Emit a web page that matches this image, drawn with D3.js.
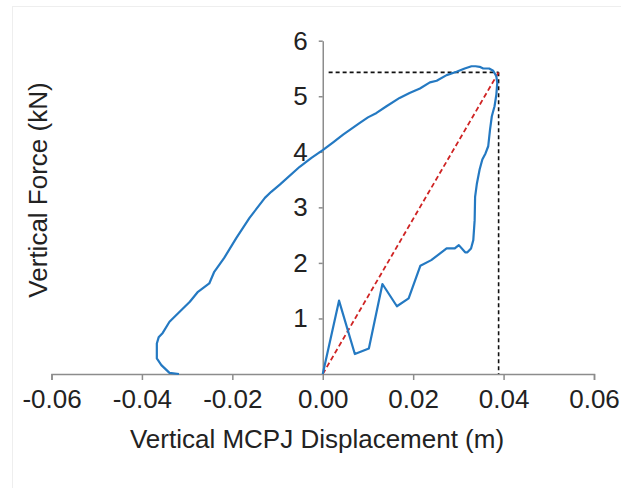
<!DOCTYPE html>
<html>
<head>
<meta charset="utf-8">
<script src="https://cdn.jsdelivr.net/npm/d3@7/dist/d3.min.js"></script>
<style>
  html, body { margin: 0; padding: 0; background: #fff; }
  svg { display: block; }
  text { font-family: "Liberation Sans", Arial, sans-serif; fill: #222; }
</style>
</head>
<body>
<svg id="chart" width="621" height="488"></svg>
<script>
// ---- data (m, kN) ----
const xTicks = [-0.06, -0.04, -0.02, 0.00, 0.02, 0.04, 0.06];
const yTicks = [1, 2, 3, 4, 5, 6];
const xTitle = "Vertical MCPJ Displacement (m)";
const yTitle = "Vertical Force (kN)";

const dispX = [
  0.0000, 0.0036, 0.0071, 0.0102, 0.0132, 0.0164, 0.0190, 0.0216, 0.0240, 0.0274,
  0.0292, 0.0301, 0.0315, 0.0320, 0.0328, 0.0333, 0.0336, 0.0337, 0.0341, 0.0347,
  0.0353, 0.0360, 0.0366, 0.0370, 0.0374, 0.0380, 0.0384, 0.0386, 0.0384, 0.0377,
  0.0368, 0.0355, 0.0347, 0.0338, 0.0329, 0.0314, 0.0296, 0.0274, 0.0252, 0.0237,
  0.0215, 0.0192, 0.0170, 0.0141, 0.0119, 0.0100, 0.0082, 0.0045, 0.0023, 0.0000,
  -0.0025, -0.0051, -0.0095, -0.0114, -0.0128, -0.0162, -0.0191, -0.0218, -0.0240, -0.0251,
  -0.0276, -0.0294, -0.0339, -0.0354, -0.0363, -0.0367, -0.0367, -0.0357, -0.0339, -0.0318
];
const forceY = [
  0.00, 1.32, 0.36, 0.46, 1.62, 1.22, 1.36, 1.95, 2.05, 2.26,
  2.26, 2.32, 2.19, 2.19, 2.26, 2.41, 2.77, 3.19, 3.43, 3.68,
  3.86, 3.97, 4.10, 4.40, 4.64, 4.82, 5.03, 5.24, 5.36, 5.46,
  5.50, 5.50, 5.53, 5.54, 5.54, 5.50, 5.44, 5.38, 5.28, 5.25,
  5.14, 5.06, 4.97, 4.82, 4.70, 4.62, 4.52, 4.31, 4.17, 4.03,
  3.89, 3.73, 3.41, 3.28, 3.17, 2.81, 2.45, 2.09, 1.84, 1.63,
  1.48, 1.30, 0.94, 0.74, 0.66, 0.55, 0.28, 0.16, 0.02, 0.00
];
// peak reference point (dashed guides & secant)
const peakX = 0.0389;
const peakY = 5.43;
const guideStartX = 0.0013;

// ---- scales ----
const svg = d3.select("#chart");
const x = d3.scaleLinear().domain([-0.06, 0.06]).range([51.5, 594]);
const y = d3.scaleLinear().domain([0, 6]).range([374, 40.7]);

// faint frame
svg.append("rect").attr("x", 12.5).attr("y", 6.5).attr("width", 620).attr("height", 490)
  .attr("fill", "none").attr("stroke", "#eeeeee").attr("stroke-width", 1);

const axisColor = "#8c8c8c";
const fmt2 = d => d3.format(".2f")(d).replace("\u2212", "-");

// x axis
const gx = svg.append("g").attr("transform", `translate(0,${y(0)})`)
  .call(d3.axisBottom(x).tickValues(xTicks).tickFormat(fmt2).tickSize(6).tickPadding(9.5));
gx.select(".domain").attr("stroke", axisColor).attr("stroke-width", 1.5);
gx.selectAll(".tick line").attr("stroke", axisColor).attr("stroke-width", 1.5);
gx.selectAll(".tick text").attr("font-size", 26).attr("fill", "#222")
  .style("font-family", '"Liberation Sans", Arial, sans-serif');

// y axis
const gy = svg.append("g").attr("transform", `translate(${x(0)},0)`)
  .call(d3.axisLeft(y).tickValues(yTicks).tickFormat(d3.format("d")).tickSize(4).tickPadding(11).tickSizeOuter(0));
gy.select(".domain").attr("stroke", axisColor).attr("stroke-width", 1.5);
gy.selectAll(".tick line").attr("stroke", axisColor).attr("stroke-width", 1.5);
gy.selectAll(".tick text").attr("font-size", 26).attr("fill", "#222")
  .style("font-family", '"Liberation Sans", Arial, sans-serif');

// dashed guide lines
svg.append("line")
  .attr("x1", x(guideStartX)).attr("y1", y(peakY)).attr("x2", x(peakX)).attr("y2", y(peakY))
  .attr("stroke", "#111").attr("stroke-width", 1.6).attr("stroke-dasharray", "4,3");
svg.append("line")
  .attr("x1", x(peakX)).attr("y1", y(peakY)).attr("x2", x(peakX)).attr("y2", y(0))
  .attr("stroke", "#111").attr("stroke-width", 1.6).attr("stroke-dasharray", "4,3");

// secant (red dashed)
svg.append("line")
  .attr("x1", x(0)).attr("y1", y(0)).attr("x2", x(peakX)).attr("y2", y(peakY))
  .attr("stroke", "#cf2323").attr("stroke-width", 1.8).attr("stroke-dasharray", "5,3");

// hysteresis curve
const pts = dispX.map((d, i) => [d, forceY[i]]);
svg.append("path")
  .datum(pts)
  .attr("fill", "none")
  .attr("stroke", "#2479c2")
  .attr("stroke-width", 2.2)
  .attr("stroke-linejoin", "round")
  .attr("d", d3.line().x(d => x(d[0])).y(d => y(d[1])));

// axis titles
svg.append("text").attr("x", 317).attr("y", 448).attr("text-anchor", "middle")
  .attr("font-size", 26).text(xTitle);
svg.append("text").attr("transform", "translate(47,190) rotate(-90)").attr("text-anchor", "middle")
  .attr("font-size", 26).text(yTitle);
</script>
</body>
</html>
